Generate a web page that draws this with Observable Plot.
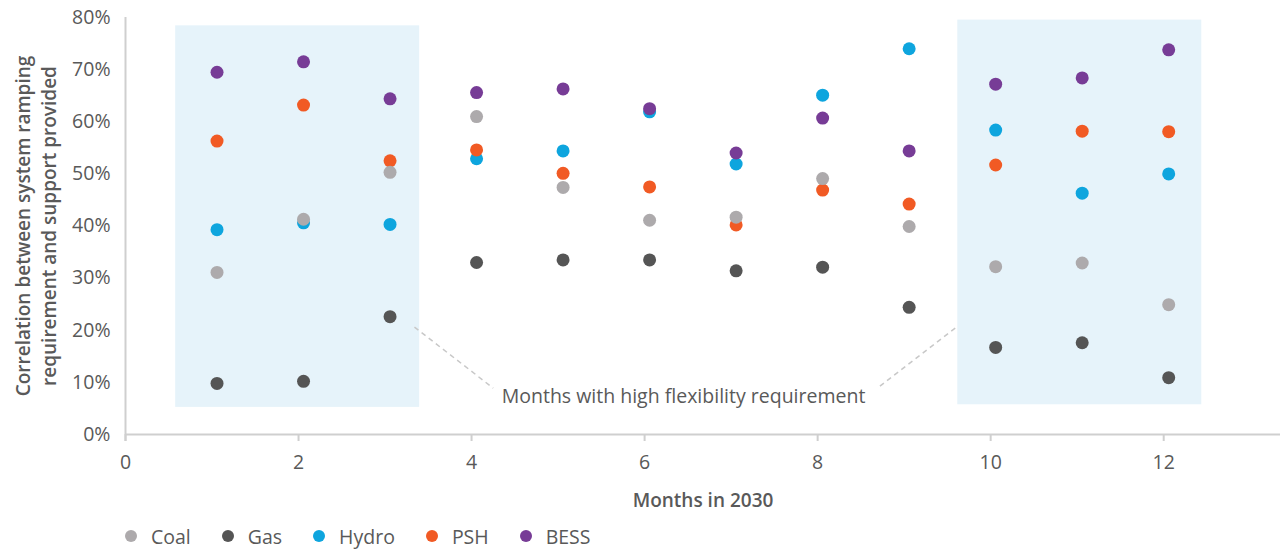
<!DOCTYPE html>
<html>
<head>
<meta charset="utf-8">
<script src="https://cdn.jsdelivr.net/npm/d3@7"></script>
<script src="https://cdn.jsdelivr.net/npm/@observablehq/plot@0.6"></script>
<style>
  body { margin: 0; background: #fff; }
  #legend { display: flex; align-items: center; height: 42px; padding-left: 125px; font-family: "Open Sans", sans-serif; font-size: 19.5px; color: #595959; }
  #legend .item { display: flex; align-items: center; margin-right: 31px; }
  #legend .sw { width: 12px; height: 12px; border-radius: 50%; margin-right: 14px; display: inline-block; }
</style>
</head>
<body>
<div id="chart"></div>
<div id="legend"></div>
<script>
const months = [1, 2, 3, 4, 5, 6, 7, 8, 9, 10, 11, 12];
const seriesNames = ["Coal", "Gas", "Hydro", "PSH", "BESS"];
const seriesColors = ["#adaaac", "#555555", "#0ea5de", "#f15a24", "#773c96"];
const coal  = [31.1, 41.3, 50.3, 61.0, 47.4, 41.1, 41.7, 49.1, 39.9, 32.2, 32.9, 24.9];
const gas   = [9.8, 10.2, 22.6, 33.0, 33.5, 33.5, 31.4, 32.1, 24.4, 16.7, 17.6, 10.9];
const hydro = [39.3, 40.6, 40.3, 52.9, 54.4, 61.9, 51.9, 65.1, 74.0, 58.4, 46.3, 50.0];
const psh   = [56.3, 63.2, 52.5, 54.6, 50.1, 47.5, 40.2, 46.9, 44.2, 51.7, 58.2, 58.1];
const bess  = [69.5, 71.5, 64.4, 65.6, 66.3, 62.5, 54.0, 60.7, 54.4, 67.2, 68.4, 73.8];
const xTicks = [0, 2, 4, 6, 8, 10, 12];
const yTicks = [0, 10, 20, 30, 40, 50, 60, 70, 80];
const highlights = [
  {x1: 0.58, x2: 3.40, y1: 5.2, y2: 78.4},
  {x1: 9.62, x2: 12.44, y1: 5.7, y2: 79.5}
];
const leaders = [
  {x1: 3.34, y1: 20.6, x2: 4.25, y2: 8.9},
  {x1: 9.59, y1: 20.4, x2: 8.69, y2: 8.9}
];
const annotation = {x: 6.45, y: 7.2, text: "Months with high flexibility requirement"};
const xTitle = "Months in 2030";
const yTitle = "Correlation between system ramping\nrequirement and support provided";

const valuesBySeries = {Coal: coal, Gas: gas, Hydro: hydro, PSH: psh, BESS: bess};
const drawOrder = ["Hydro", "PSH", "Coal", "Gas", "BESS"];
const data = drawOrder.flatMap(s => months.map((m, i) => ({series: s, month: m, value: valuesBySeries[s][i]})));

const axisColor = "#cfcfcf";
const textColor = "#595959";
const font = "'Open Sans', sans-serif";
const fs = 19.5;

const chart = Plot.plot({
  width: 1287,
  height: 515,
  marginLeft: 125,
  marginRight: 7,
  marginTop: 17,
  marginBottom: 81,
  style: {fontFamily: font, fontSize: fs + "px", color: textColor, background: "#fff"},
  x: {domain: [0, 13.35]},
  y: {domain: [0, 80]},
  color: {domain: seriesNames, range: seriesColors},
  marks: [
    Plot.rect(highlights, {x1: "x1", x2: "x2", y1: "y1", y2: "y2", fill: "#e6f3fa"}),
    Plot.link(leaders, {x1: "x1", y1: "y1", x2: "x2", y2: "y2", stroke: "#c8c8c8", strokeWidth: 1.5, strokeDasharray: "5,4"}),
    Plot.text([annotation], {x: "x", y: "y", text: "text", fontSize: fs, fill: textColor}),
    Plot.ruleY([0], {stroke: axisColor, strokeWidth: 2}),
    Plot.ruleX([0], {stroke: axisColor, strokeWidth: 2, insetBottom: -7}),
    Plot.axisX({ticks: xTicks, tickSize: 7, tickPadding: 14, stroke: axisColor, strokeWidth: 2, label: null, fontSize: fs, fill: textColor}),
    Plot.axisY({ticks: yTicks, tickSize: 0, tickPadding: 15, tickFormat: d => d + "%", label: null, fontSize: fs, fill: textColor}),
    Plot.dot(data, {x: "month", y: "value", fill: "series", r: 6.5, dx: 5}),
    Plot.text([xTitle], {frameAnchor: "bottom", dy: 72, fontWeight: 600, fontSize: 19, fill: textColor}),
    Plot.text([yTitle], {frameAnchor: "left", rotate: -90, dx: -91, textAnchor: "middle", lineAnchor: "middle", lineHeight: 1.35, fontWeight: 600, fontSize: 19, fill: textColor})
  ]
});
document.getElementById("chart").appendChild(chart);

const legend = document.getElementById("legend");
seriesNames.forEach((s, i) => {
  const item = document.createElement("span");
  item.className = "item";
  const sw = document.createElement("span");
  sw.className = "sw";
  sw.style.background = seriesColors[i];
  const label = document.createElement("span");
  label.textContent = s;
  item.appendChild(sw);
  item.appendChild(label);
  legend.appendChild(item);
});
</script>
</body>
</html>
